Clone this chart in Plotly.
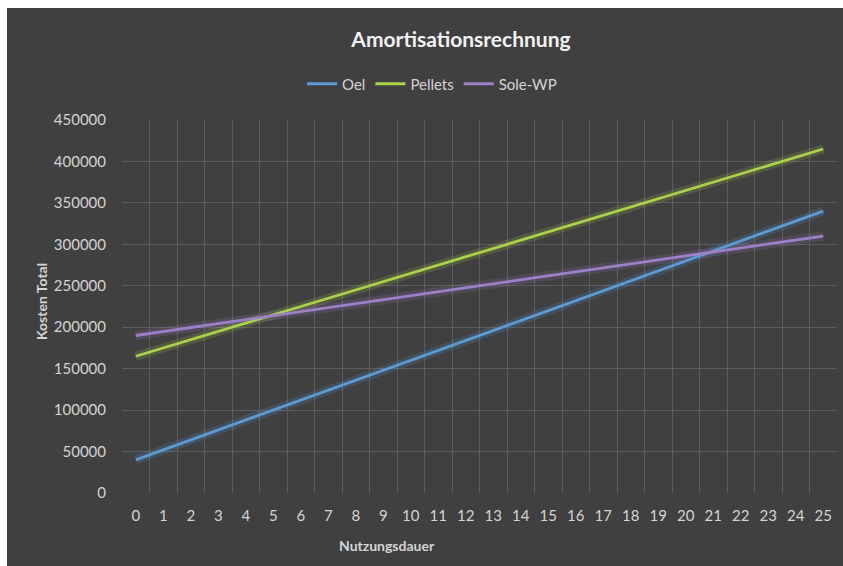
import plotly.graph_objects as go

years = [str(i) for i in range(26)]
oel = [40000, 52000, 64000, 76000, 88000, 100000, 112000, 124000, 136000, 148000,
       160000, 172000, 184000, 196000, 208000, 220000, 232000, 244000, 256000, 268000,
       280000, 292000, 304000, 316000, 328000, 340000]
pellets = [165000, 175000, 185000, 195000, 205000, 215000, 225000, 235000, 245000, 255000,
           265000, 275000, 285000, 295000, 305000, 315000, 325000, 335000, 345000, 355000,
           365000, 375000, 385000, 395000, 405000, 415000]
sole_wp = [190000, 194800, 199600, 204400, 209200, 214000, 218800, 223600, 228400, 233200,
           238000, 242800, 247600, 252400, 257200, 262000, 266800, 271600, 276400, 281200,
           286000, 290800, 295600, 300400, 305200, 310000]
y_ticks = list(range(0, 450001, 50000))
y_labels = [str(v) for v in y_ticks]

series = [("Oel", oel, "#5b9bd5"), ("Pellets", pellets, "#a9d14a"), ("Sole-WP", sole_wp, "#9d80c8")]

BG = "#404040"
W, H = 843, 566
L, R, T, B = 122, 6, 120, 73
pw, ph = W - L - R, H - T - B

def px(p):
    return (p - L) / pw

def py(q):
    return (H - B - q) / ph

fig = go.Figure()
# glow layers
for name, vals, col in series:
    fig.add_trace(go.Scatter(x=years, y=vals, mode="lines", line=dict(color=col, width=9),
                             opacity=0.18, showlegend=False, hoverinfo="skip"))
for name, vals, col in series:
    fig.add_trace(go.Scatter(x=years, y=vals, mode="lines", name=name,
                             line=dict(color=col, width=2.8)))

font = "Lato, 'Open Sans', sans-serif"
fig.update_layout(
    width=W, height=H,
    margin=dict(l=L, r=R, t=T, b=B, autoexpand=False),
    paper_bgcolor=BG,
    plot_bgcolor=BG,
    font=dict(family=font, color="#d4d4d4", size=15),
    title=dict(text="<b>Amortisationsrechnung</b>", x=461 / W, y=1 - 40 / H,
               xanchor="center", yanchor="middle",
               font=dict(size=21, color="#f2f2f2", family=font)),
    legend=dict(orientation="h", x=px(432), y=py(84), xanchor="center", yanchor="middle",
                font=dict(size=15, color="#d4d4d4"), bgcolor="rgba(0,0,0,0)"),
    xaxis=dict(type="category", tickson="boundaries", range=[-0.5, 25.5], showgrid=True,
               gridcolor="#5c5c5c", gridwidth=1, ticks="", ticklabelstandoff=12,
               zeroline=False, showline=False, automargin=False,
               tickfont=dict(size=15, color="#d4d4d4")),
    yaxis=dict(range=[0, 450000], tickvals=y_ticks, ticktext=y_labels, showgrid=True,
               gridcolor="#5c5c5c", gridwidth=1, ticks="", ticklabelstandoff=15,
               zeroline=False, showline=False, automargin=False,
               tickfont=dict(size=15, color="#d4d4d4")),
    annotations=[
        dict(text="<b>Kosten Total</b>", xref="paper", yref="paper", x=px(41), y=py(302),
             textangle=-90, showarrow=False, xanchor="center", yanchor="middle",
             font=dict(size=14, color="#d4d4d4")),
        dict(text="<b>Nutzungsdauer</b>", xref="paper", yref="paper", x=px(387), y=py(545),
             showarrow=False, xanchor="center", yanchor="middle",
             font=dict(size=14, color="#d4d4d4")),
        # white frame strips (left and top) as in the cropped screenshot
        dict(text=" ", xref="paper", yref="paper", x=px(0), y=py(0), xanchor="left",
             yanchor="top", width=7, height=H, bgcolor="white", borderpad=0,
             borderwidth=0, showarrow=False),
        dict(text=" ", xref="paper", yref="paper", x=px(0), y=py(0), xanchor="left",
             yanchor="top", width=W, height=8, bgcolor="white", borderpad=0,
             borderwidth=0, showarrow=False),
    ],
)

fig.write_html("out.html")
